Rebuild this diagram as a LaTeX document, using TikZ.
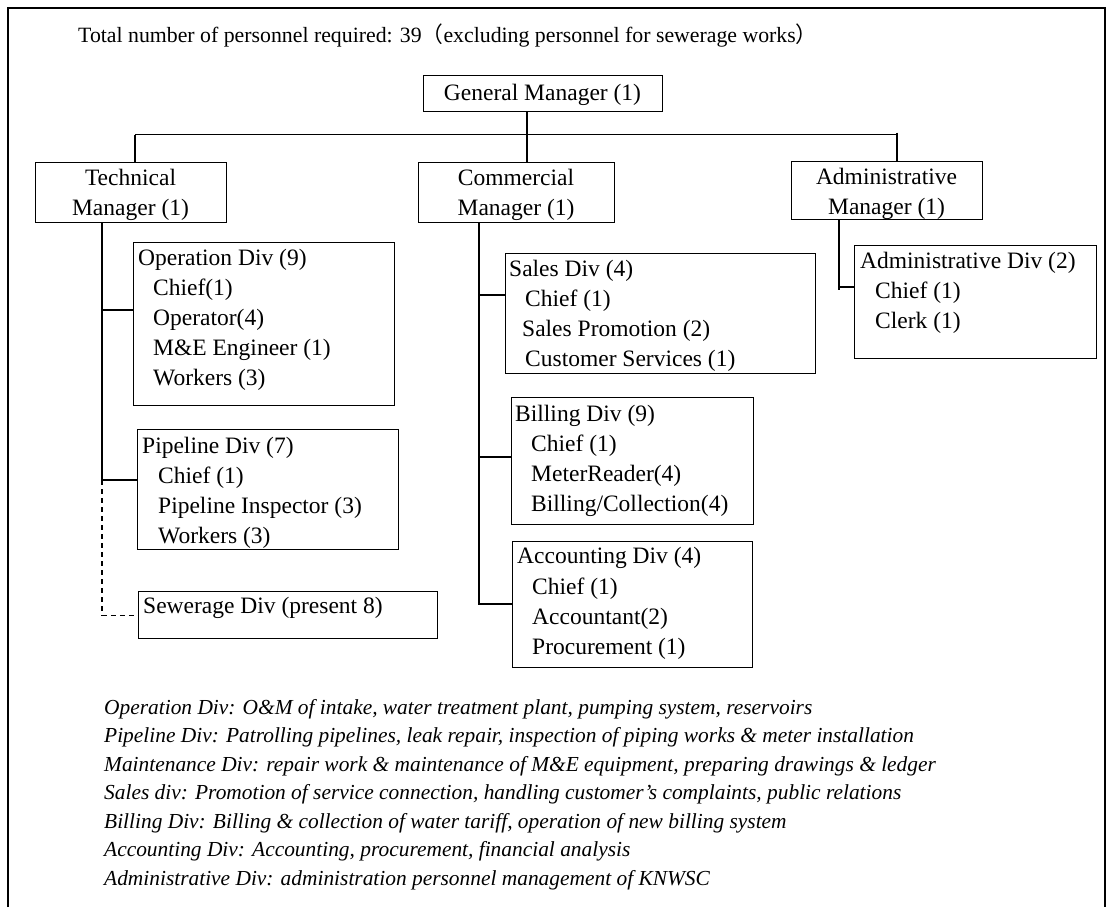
\documentclass[tikz,border=0pt]{standalone}
\usepackage{fontspec}
\setmainfont{Liberation Serif}
\newfontfamily\cjk{Noto Sans CJK JP}
\begin{document}
\begin{tikzpicture}[x=1pt,y=-1pt,
  box/.style={draw, line width=1.4pt, rectangle, inner sep=0pt, anchor=north west},
  txt/.style={inner sep=0pt, anchor=base west, font=\fontsize{23.5}{30}\selectfont},
  ctr/.style={inner sep=0pt, anchor=base, font=\fontsize{23.5}{30}\selectfont},
  note/.style={inner sep=0pt, anchor=base west, font=\fontsize{21.4}{28}\selectfont\itshape},
  link/.style={line width=1.4pt},
  dashlink/.style={line width=1.2pt, dash pattern=on 5pt off 4pt}]
\useasboundingbox (0,0) rectangle (1113,907);

% outer frame, open at the bottom
\draw[line width=1.8pt] (8,907) -- (8,8) -- (1105,8) -- (1105,907);

% heading
\node[txt, font=\fontsize{21.8}{28}\selectfont] (title) at (78,43) {Total number of personnel required: 39{\cjk （}excluding personnel for sewerage works{\cjk ）}};

% managers
\node[box, minimum width=239, minimum height=36] (gm) at (423,75) {};
\node[ctr] (gm-t) at (542.5,100) {General Manager (1)};

\node[box, minimum width=191, minimum height=60] (tech) at (35,162) {};
\node[ctr] (tech-1) at (130.5,185) {Technical};
\node[ctr] (tech-2) at (130.5,215) {Manager (1)};

\node[box, minimum width=196, minimum height=60] (com) at (418,162) {};
\node[ctr] (com-1) at (516,185) {Commercial};
\node[ctr] (com-2) at (516,215) {Manager (1)};

\node[box, minimum width=191, minimum height=58] (adm) at (791,161) {};
\node[ctr] (adm-1) at (886.5,184) {Administrative};
\node[ctr] (adm-2) at (886.5,214) {Manager (1)};

% technical divisions
\node[box, minimum width=261, minimum height=163] (op) at (133,242) {};
\node[txt] (op-0) at (138,265) {Operation Div (9)};
\node[txt] (op-1) at (153,295) {Chief(1)};
\node[txt] (op-2) at (153,325) {Operator(4)};
\node[txt] (op-3) at (153,355) {M\&E Engineer (1)};
\node[txt] (op-4) at (153,385) {Workers (3)};

\node[box, minimum width=261, minimum height=120] (pipe) at (137,429) {};
\node[txt] (pipe-0) at (142,453) {Pipeline Div (7)};
\node[txt] (pipe-1) at (158,483) {Chief (1)};
\node[txt] (pipe-2) at (158,513) {Pipeline Inspector (3)};
\node[txt] (pipe-3) at (158,543) {Workers (3)};

\node[box, minimum width=299, minimum height=47] (sew) at (138,591) {};
\node[txt] (sew-0) at (143,613) {Sewerage Div (present 8)};

% commercial divisions
\node[box, minimum width=310, minimum height=120] (sales) at (505,253) {};
\node[txt] (sales-0) at (509,276) {Sales Div (4)};
\node[txt] (sales-1) at (525,306.5) {Chief (1)};
\node[txt] (sales-2) at (522,336.5) {Sales Promotion (2)};
\node[txt] (sales-3) at (525,366) {Customer Services (1)};

\node[box, minimum width=242, minimum height=127] (bill) at (511,397) {};
\node[txt] (bill-0) at (515,421) {Billing Div (9)};
\node[txt] (bill-1) at (531,451) {Chief (1)};
\node[txt] (bill-2) at (531,481) {MeterReader(4)};
\node[txt] (bill-3) at (531,511) {Billing/Collection(4)};

\node[box, minimum width=240, minimum height=126] (acc) at (512,541) {};
\node[txt] (acc-0) at (517,563) {Accounting Div (4)};
\node[txt] (acc-1) at (532,594) {Chief (1)};
\node[txt] (acc-2) at (532,624) {Accountant(2)};
\node[txt] (acc-3) at (532,654) {Procurement (1)};

% administrative division
\node[box, minimum width=242, minimum height=113] (admdiv) at (854,245) {};
\node[txt] (admdiv-0) at (860,268) {Administrative Div (2)};
\node[txt] (admdiv-1) at (875,298) {Chief (1)};
\node[txt] (admdiv-2) at (875,328) {Clerk (1)};

% reporting lines
\coordinate (bus) at (527,134.5);
\coordinate (tdrop) at (135,134.5);
\coordinate (adrop) at (897,134.5);
\draw[link] (gm.south -| bus) -- (com.north -| bus);
\draw[link] (tdrop) -- (adrop);
\draw[link] (tdrop) -- (tdrop |- tech.north);
\draw[link] ([yshift=2pt]adrop) -- (adrop |- adm.north);

\coordinate (tj1) at (102,310);
\coordinate (tj2) at (102,480);
\draw[link] (tech.south -| tj2) -- (tj2) -- (tj2 -| pipe.west);
\draw[link] (tj1) -- (tj1 -| op.west);
\draw[dashlink] (tj2) |- (sew.west);

\coordinate (cj1) at (479,295);
\coordinate (cj2) at (479,457);
\coordinate (cj3) at (479,604);
\draw[link] (com.south -| cj3) -- (cj3) -- (cj3 -| acc.west);
\draw[link] (cj1) -- (cj1 -| sales.west);
\draw[link] (cj2) -- (cj2 -| bill.west);

\coordinate (aj) at (839,287);
\draw[link] (adm.south -| aj) -- ([yshift=-3pt]aj);
\draw[link] (aj) -- (aj -| admdiv.west);

% division notes
\node[note] (n1) at (104,714) {Operation Div: O\&M of intake, water treatment plant, pumping system, reservoirs};
\node[note] (n2) at (104,742.5) {Pipeline Div: Patrolling pipelines, leak repair, inspection of piping works \& meter installation};
\node[note] (n3) at (104,771) {Maintenance Div: repair work \& maintenance of M\&E equipment, preparing drawings \& ledger};
\node[note] (n4) at (104,799.5) {Sales div: Promotion of service connection, handling customer's complaints, public relations};
\node[note] (n5) at (104,828) {Billing Div: Billing \& collection of water tariff, operation of new billing system};
\node[note] (n6) at (104,856.5) {Accounting Div: Accounting, procurement, financial analysis};
\node[note] (n7) at (104,885) {Administrative Div: administration personnel management of KNWSC};
\end{tikzpicture}
\end{document}
